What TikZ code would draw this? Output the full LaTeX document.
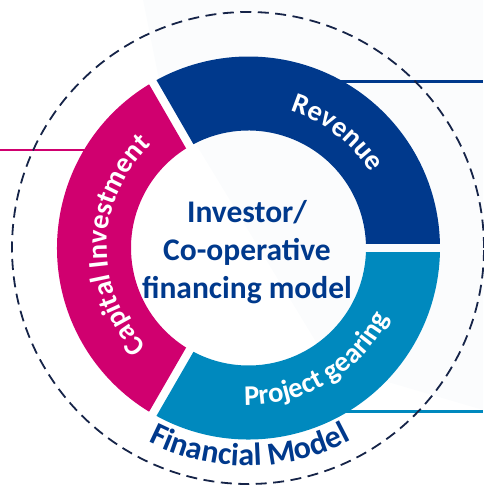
\documentclass[tikz,border=0pt]{standalone}
\usepackage{fontspec}
\setmainfont{Carlito}
\usetikzlibrary{decorations.text}
\definecolor{revblue}{RGB}{0,57,140}
\definecolor{capmag}{RGB}{208,0,111}
\definecolor{projblue}{RGB}{0,137,190}
\definecolor{dashnavy}{RGB}{22,36,72}
\definecolor{faintbg}{RGB}{251,252,253}
\newcommand\ringseg[3]{%
  \fill[#3] (#1+1.27:191.5) arc[start angle=#1+1.27, end angle=#2-1.27, radius=191.5]
    -- (#2-2.07:117.5) arc[start angle=#2-2.07, end angle=#1+2.07, radius=117.5] -- cycle;}
\tikzset{
  leader/.style={line width=2.6pt},
  ringlabel/.style={decorate, decoration={text along path, text align=center, text color=white}},
  centertext/.style={text=revblue, font=\bfseries\fontsize{31.5}{31.5}\selectfont, anchor=base, inner sep=0pt}
}
\begin{document}
\begin{tikzpicture}[x=1pt,y=1pt]
\useasboundingbox (0,0) rectangle (483,487);
% faint background
\fill[faintbg] (143,487) -- (483,487) -- (483,77) -- (330,122) -- (160,402) -- cycle;
% leader lines
\coordinate (revA) at (330,405.3);
\coordinate (revB) at (483,405.3);
\coordinate (capA) at (0,337);
\coordinate (capB) at (100,337);
\coordinate (proA) at (330,75.3);
\coordinate (proB) at (483,75.3);
\draw[leader, revblue] (revA) -- (revB);
\draw[leader, capmag] (capA) -- (capB);
\draw[leader, projblue] (proA) -- (proB);
% ring
\begin{scope}[shift={(248.5,239)}]
\ringseg{0}{120}{revblue}
\ringseg{120}{240}{capmag}
\ringseg{240}{360}{projblue}
\path[ringlabel, decoration={text={|\bfseries\fontsize{28.5}{28.5}\selectfont|Revenue}}]
  (112.4:143) arc[start angle=112.4, end angle=-7.6, radius=143];
\path[ringlabel, decoration={text={|\bfseries\fontsize{28.5}{28.5}\selectfont|Capital Investment}}]
  (238.5:141.5) arc[start angle=238.5, end angle=118.5, radius=141.5];
\path[ringlabel, decoration={text={|\bfseries\fontsize{28.5}{28.5}\selectfont|Project gearing}}]
  (-119:157) arc[start angle=-119, end angle=1, radius=157];
\end{scope}
% dashed circle
\draw[dashnavy, line width=1.8pt, dash pattern=on 11pt off 6.5pt] (248,239) circle[radius=236];
\path[decorate, decoration={text along path, text align=center, text color=revblue,
  text={|\bfseries\fontsize{32}{32}\selectfont|Financial Model}}]
  (248,239) ++(-149.5:218) arc[start angle=-149.5, end angle=-29.5, radius=218];
% centre text
\node[centertext] (c1) at (247,264.3) {Investor/};
\node[centertext] (c2) at (247,226) {Co-operative};
\node[centertext] (c3) at (247,188) {financing model};
\end{tikzpicture}
\end{document}
